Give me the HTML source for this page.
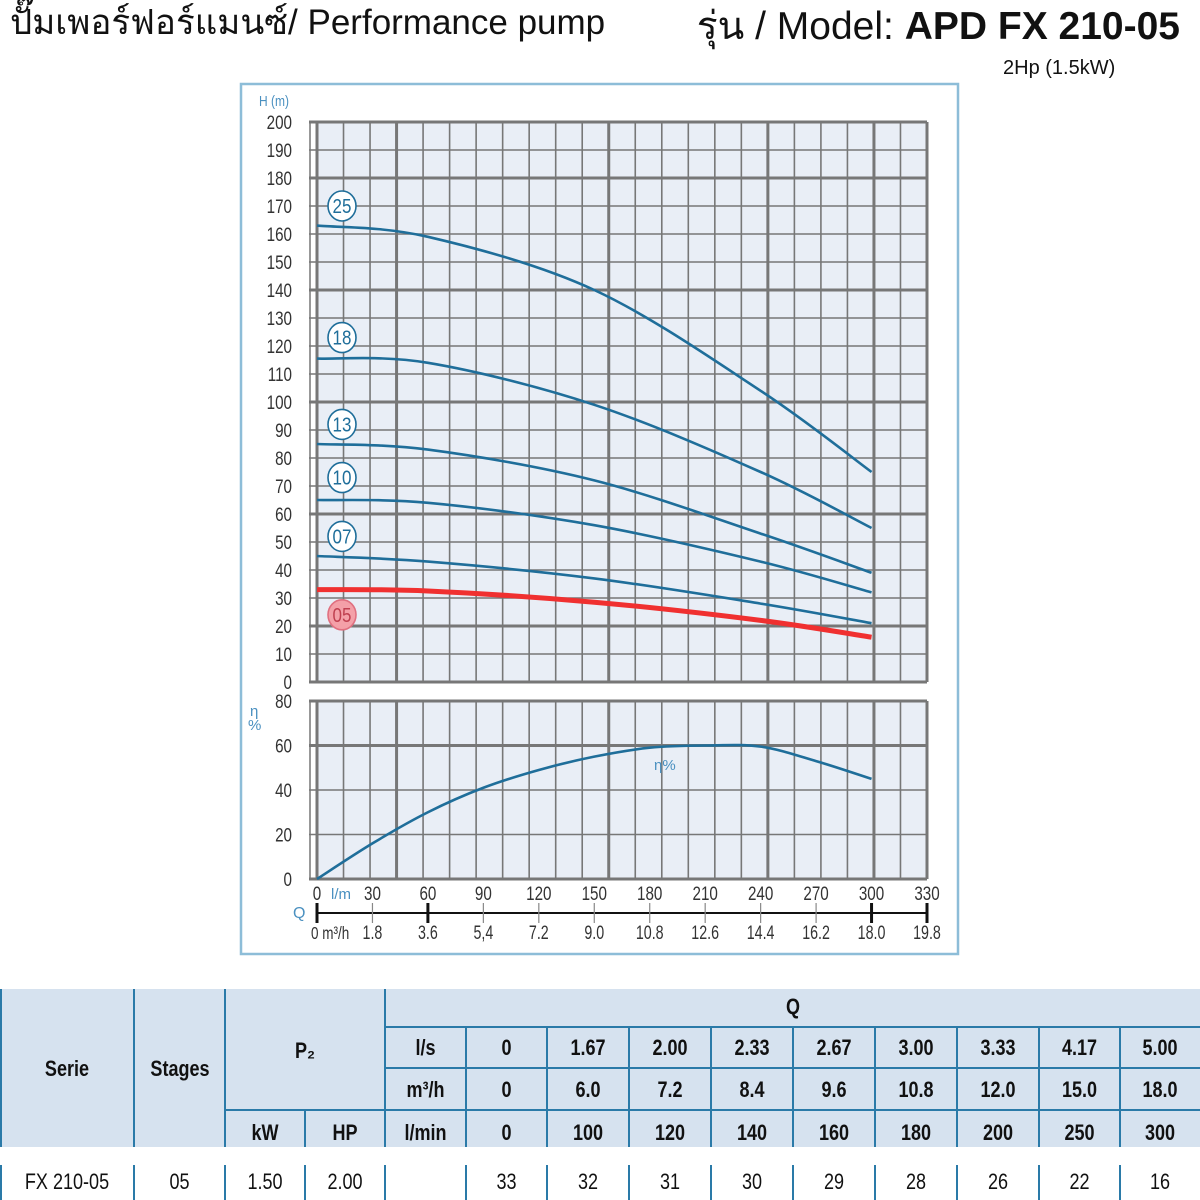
<!DOCTYPE html>
<html><head><meta charset="utf-8"><style>
html,body{margin:0;padding:0;background:#fff;width:1200px;height:1200px;overflow:hidden}
svg{display:block}
text{font-family:"Liberation Sans","Noto Sans CJK SC",sans-serif}
</style></head><body>
<svg id="s" width="1200" height="1200" viewBox="0 0 1200 1200">
<text x="10" y="34" font-size="35" fill="#111">ปั๊มเพอร์ฟอร์แมนซ์/ Performance pump</text>
<text x="1180" y="39" font-size="39" fill="#111" text-anchor="end">รุ่น / Model: <tspan font-weight="bold">APD FX 210-05</tspan></text>
<text x="1003" y="74" font-size="20" fill="#111">2Hp (1.5kW)</text>
<rect x="241" y="84" width="717" height="870" fill="#fff" stroke="#8dbdd8" stroke-width="2.5"/>
<g id="chart"></g>
<g id="table"></g>
</svg>
<script>
const flowTicks=[0,30,60,90,120,150,180,210,240,270,300,330];
const m3hTicks=["0","1.8","3.6","5,4","7.2","9.0","10.8","12.6","14.4","16.2","18.0","19.8"];
const headTicks=[0,10,20,30,40,50,60,70,80,90,100,110,120,130,140,150,160,170,180,190,200];
const effTicks=[0,20,40,60,80];
const curveFlow=[0,60,150,240,300];
const curve25=[163,159,140,104,75];
const curve18=[115.5,114,99,75,55];
const curve13=[85,83,72,53,39];
const curve10=[65,64,56,43,32];
const curve07=[45,43,37,28,21];
const curve05Flow=[0,60,150,240,300];
const curve05=[33,32.5,28.5,22,16];
const effFlow=[0,30,60,90,120,150,180,210,240,270,300];
const effValues=[0,16,30,41,49,55,59,60,59.5,53,45];
const stageLabels=["25","18","13","10","07","05"];
const stageLabelH=[170,123,92,73,52,24];

const NS="http://www.w3.org/2000/svg";
const X0=317,X1=927,QMAX=330;
const HT=122,HB=682,ET=701,EB=879;
const x=q=>X0+q/QMAX*(X1-X0);
const yH=h=>HB-h/200*(HB-HT);
const yE=e=>EB-e/80*(EB-ET);
const g=document.getElementById('chart');
function mk(tag,at,parent){const e=document.createElementNS(NS,tag);for(const k in at)e.setAttribute(k,at[k]);(parent||g).appendChild(e);return e;}
function smooth(pts){let d=`M${pts[0][0]},${pts[0][1]}`;for(let i=0;i<pts.length-1;i++){const p0=pts[i-1]||pts[i],p1=pts[i],p2=pts[i+1],p3=pts[i+2]||p2;
d+=` C${p1[0]+(p2[0]-p0[0])/6},${p1[1]+(p2[1]-p0[1])/6} ${p2[0]-(p3[0]-p1[0])/6},${p2[1]-(p3[1]-p1[1])/6} ${p2[0]},${p2[1]}`;}return d;}

let bg=mk('rect',{x:X0,y:HT,width:X1-X0,height:HB-HT,fill:'#e9eef6'});


bg=mk('rect',{x:X0,y:ET,width:X1-X0,height:EB-ET,fill:'#e9eef6'});


const thick=[0,3,11,17,21,23];
for(let i=0;i<=23;i++){const vx=X0+i*(X1-X0)/23;const w=thick.includes(i)?3:1.6;
let l=mk('line',{x1:vx,x2:vx,y1:HT,y2:HB,stroke:'#777',"stroke-width":w});


l=mk('line',{x1:vx,x2:vx,y1:ET,y2:EB,stroke:'#777',"stroke-width":w});

}
headTicks.forEach(h=>{const w=(h%40===20||h===0||h===200)?3:1.6;
let l=mk('line',{x1:X0-8,x2:X1,y1:yH(h),y2:yH(h),stroke:'#777',"stroke-width":w});


let t=mk('text',{x:292,y:yH(h)+7,"font-size":19,"text-anchor":"end",fill:'#333',transform:`translate(292 0) scale(0.8 1) translate(-292 0)`});
t.textContent=h;

});
mk('line',{x1:310,x2:310,y1:HT,y2:HB,stroke:'#777',"stroke-width":1.5});
effTicks.forEach(e=>{const w=(e===60||e===0||e===80)?3:1.6;
let l=mk('line',{x1:X0-8,x2:X1,y1:yE(e),y2:yE(e),stroke:'#777',"stroke-width":w});


let t=mk('text',{x:292,y:yE(e)+7,"font-size":19,"text-anchor":"end",fill:'#333',transform:`translate(292 0) scale(0.8 1) translate(-292 0)`});
t.textContent=e;

});
mk('line',{x1:310,x2:310,y1:ET,y2:EB,stroke:'#777',"stroke-width":1.5});
let tt=mk('text',{x:259,y:106,"font-size":15,fill:'#4a90c0',transform:'translate(259 0) scale(0.8 1) translate(-259 0)'});tt.textContent='H (m)';


tt=mk('text',{x:250,y:716,"font-size":15,fill:'#4a90c0'});tt.textContent='η';


tt=mk('text',{x:248,y:730,"font-size":15,fill:'#4a90c0'});tt.textContent='%';

[[curve25,'25'],[curve18,'18'],[curve13,'13'],[curve10,'10'],[curve07,'07']].forEach(([c,n])=>{
const p=mk('path',{d:smooth(curveFlow.map((q,i)=>[x(q),yH(c[i])])),fill:'none',stroke:'#1f6e9a',"stroke-width":2.6});

});
const red=mk('path',{d:smooth(curve05Flow.map((q,i)=>[x(q),yH(curve05[i])])),fill:'none',stroke:'#f03030',"stroke-width":5});


const eff=mk('path',{d:smooth(effFlow.map((q,i)=>[x(q),yE(effValues[i])])),fill:'none',stroke:'#1f6e9a',"stroke-width":2.6});


tt=mk('text',{x:654,y:770,"font-size":15,fill:'#4a90c0'});tt.textContent='η%';


stageLabels.forEach((s,i)=>{const cy=yH(stageLabelH[i]);const is5=s==='05';
const c=mk('ellipse',{cx:342,cy:cy,rx:14,ry:15,fill:is5?'#f4a0a8':'#fff',stroke:is5?'#e07080':'#1f6e9a',"stroke-width":1.6});


const t=mk('text',{x:342,y:cy+7,"font-size":20,"text-anchor":"middle",fill:is5?'#c04050':'#1f6e9a',transform:`translate(342 0) scale(0.85 1) translate(-342 0)`});t.textContent=s;

});
mk('line',{x1:X0,x2:X1,y1:913,y2:913,stroke:'#111',"stroke-width":2});
flowTicks.forEach((q,i)=>{const big=[0,60,300,330].includes(q);
const l=mk('line',{x1:x(q),x2:x(q),y1:903,y2:923,stroke:big?'#111':'#888',"stroke-width":big?3:1.2});


let t=mk('text',{x:x(q),y:900,"font-size":19,"text-anchor":"middle",fill:'#333',transform:`translate(${x(q)} 0) scale(0.8 1) translate(${-x(q)} 0)`});t.textContent=q;


if(i>0){t=mk('text',{x:x(q),y:939,"font-size":19,"text-anchor":"middle",fill:'#333',transform:`translate(${x(q)} 0) scale(0.75 1) translate(${-x(q)} 0)`});t.textContent=m3hTicks[i];

}});
tt=mk('text',{x:331,y:899,"font-size":15,fill:'#4a90c0'});tt.textContent='l/m';
tt=mk('text',{x:311,y:939,"font-size":18,fill:'#333',transform:'translate(311 0) scale(0.75 1) translate(-311 0)'});tt.textContent='0 m³/h';
tt=mk('text',{x:293,y:918,"font-size":16,fill:'#4a90c0'});tt.textContent='Q';



const tb=document.getElementById('table');
const colX=[0,134,225,305,385,466,547,629,711,793,875,957,1039,1120,1200];
const lsRow=["l/s","0","1.67","2.00","2.33","2.67","3.00","3.33","4.17","5.00"];
const m3Row=["m³/h","0","6.0","7.2","8.4","9.6","10.8","12.0","15.0","18.0"];
const lmRow=["l/min","0","100","120","140","160","180","200","250","300"];
const dataRow=["FX 210-05","05","1.50","2.00","","33","32","31","30","29","28","26","22","16"];
const LC='#2a7aa8';
function tr(at){return mk('rect',at,tb);}
function tl(x1,y1,x2,y2){const l=mk('line',{x1,y1,x2,y2,stroke:LC,"stroke-width":2},tb);return l;}
function tx(s,cx,cy,bold){const t=mk('text',{x:cx,y:cy,"font-size":22,"text-anchor":"middle",fill:'#111',"font-weight":bold?'bold':'normal',transform:`translate(${cx} 0) scale(0.82 1) translate(${-cx} 0)`},tb);t.textContent=s;return t;}
const hb=tr({x:0,y:989,width:1200,height:158,fill:'#d6e2ef'});


tl(1,989,1,1147);tl(134,989,134,1147);tl(225,989,225,1147);tl(385,989,385,1147);
tl(385,1027,1200,1027);tl(385,1068,1200,1068);tl(225,1110,1200,1110);tl(305,1110,305,1147);
for(let i=5;i<colX.length-1;i++)tl(colX[i],1027,colX[i],1147);
tx("Serie",67,1076,true);tx("Stages",180,1076,true);tx("P₂",305,1058,true);tx("Q",793,1014,true);
tx("kW",265,1140,true);tx("HP",345,1140,true);
[[lsRow,1055],[m3Row,1097],[lmRow,1140]].forEach(([r,yy])=>r.forEach((v,i)=>{const c=(colX[i+4]+colX[i+5])/2;const t=tx(v,c,yy,true);

}));
dataRow.forEach((v,i)=>{const c=(colX[i]+colX[i+1])/2;const t=tx(v,c,1189,false);


tl(colX[i]+(i===0?1:0),1165,colX[i]+(i===0?1:0),1200);});
</script>
</body></html>
